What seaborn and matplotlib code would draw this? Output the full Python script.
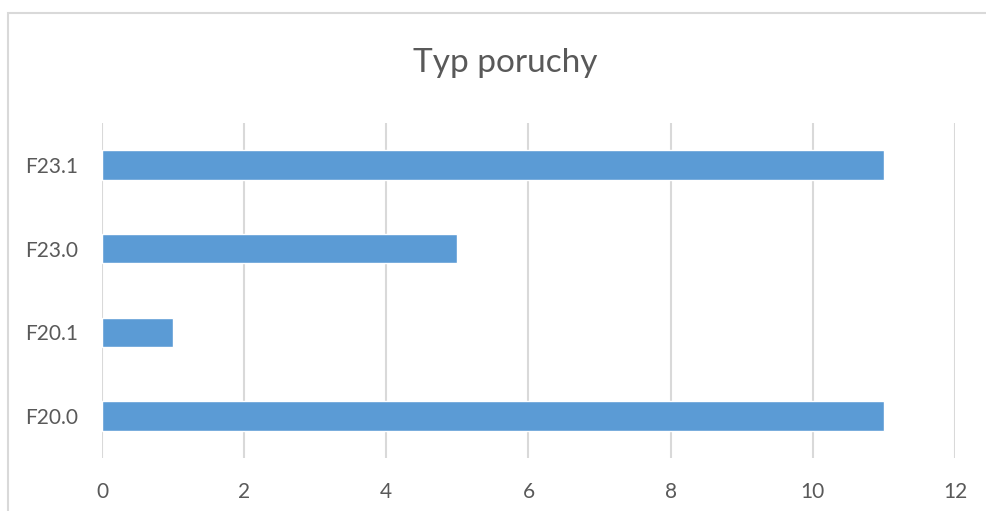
import matplotlib
matplotlib.use("Agg")
import matplotlib.pyplot as plt
import seaborn as sns
import pandas as pd
from matplotlib.patches import Rectangle

sns.set_style("white")
plt.rcParams['font.family'] = ['Lato', 'DejaVu Sans']

# data
categories = ["F20.0", "F20.1", "F23.0", "F23.1"]
counts = [11, 1, 5, 11]
x_ticks = [0, 2, 4, 6, 8, 10, 12]

df = pd.DataFrame({"typ": categories, "pocet": counts})

fig = plt.figure(figsize=(9.87, 5.11), dpi=100)
ax = fig.add_axes([102 / 987, 1 - 458 / 511, (955 - 102) / 987, (458 - 123) / 511])

# chart border (cropped screenshot, only left and top visible)
fig.patches.append(Rectangle((8 / 987, -0.5), 2, 1.5 - 13 / 511, transform=fig.transFigure,
                             fill=False, edgecolor="#d9d9d9", linewidth=1.5))

sns.barplot(data=df, x="pocet", y="typ", order=categories[::-1], color="#5b9bd5",
            saturation=1, width=0.35, ax=ax, orient="h")

ax.set_xlim(0, 12)
ax.set_xticks(x_ticks)
ax.xaxis.grid(True, color="#d9d9d9", linewidth=1.5)
ax.set_axisbelow(True)
for s in ax.spines.values():
    s.set_visible(False)
ax.tick_params(axis="both", length=0, labelsize=15, labelcolor="#595959")
ax.tick_params(axis="x", pad=17)
ax.tick_params(axis="y", pad=17)
ax.set_xlabel("")
ax.set_ylabel("")

fig.text(505 / 987, 1 - 63 / 511, "Typ poruchy", ha="center", va="center",
         fontsize=24, color="#595959")

fig.savefig("out.png", dpi=100)
